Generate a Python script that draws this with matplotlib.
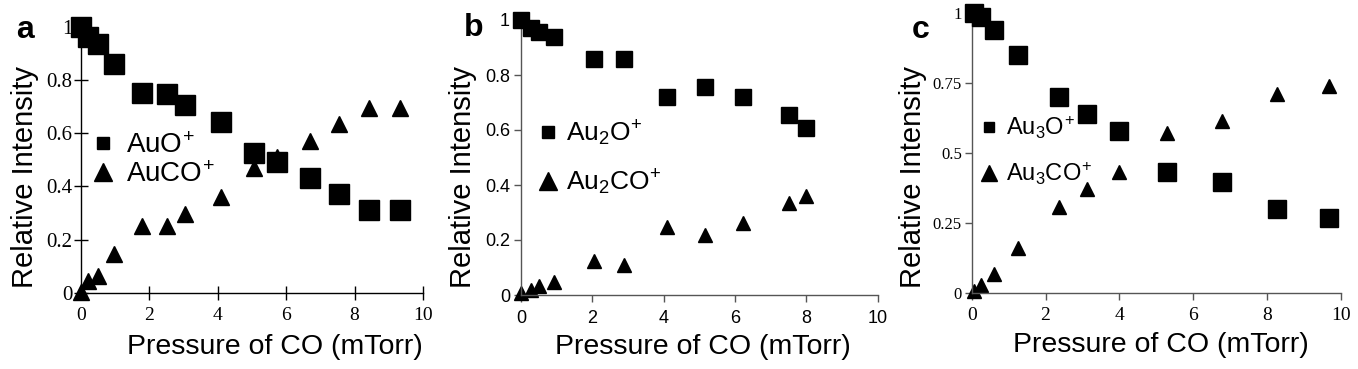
import matplotlib
matplotlib.use('Agg')
import matplotlib.pyplot as plt
from matplotlib.lines import Line2D

plt.rcParams['font.family'] = 'Liberation Sans'
plt.rcParams['mathtext.default'] = 'regular'

W, H = 1358, 369

# panel a: AuO+ / AuCO+
p_a = [0, 0.22, 0.52, 0.98, 1.78, 2.51, 3.04, 4.09, 5.06, 5.74, 6.71, 7.55, 8.41, 9.32]
auo = [1.0, 0.96, 0.935, 0.86, 0.75, 0.745, 0.705, 0.64, 0.525, 0.49, 0.43, 0.37, 0.31, 0.31]
auco = [0.005, 0.044, 0.065, 0.145, 0.25, 0.25, 0.295, 0.362, 0.47, 0.51, 0.569, 0.635, 0.694, 0.694]

# panel b: Au2O+ / Au2CO+
p_b = [0, 0.27, 0.5, 0.93, 2.05, 2.9, 4.08, 5.16, 6.21, 7.5, 8.0]
au2o = [1.0, 0.97, 0.955, 0.937, 0.86, 0.857, 0.719, 0.755, 0.719, 0.655, 0.606]
au2co = [0.006, 0.02, 0.033, 0.048, 0.125, 0.109, 0.248, 0.218, 0.263, 0.333, 0.36]

# panel c: Au3O+ / Au3CO+
p_c = [0.07, 0.24, 0.6, 1.25, 2.37, 3.12, 3.98, 5.29, 6.78, 8.27, 9.68]
au3o = [1.0, 0.986, 0.938, 0.85, 0.70, 0.638, 0.576, 0.432, 0.395, 0.30, 0.267]
au3co = [0.007, 0.028, 0.067, 0.159, 0.307, 0.371, 0.431, 0.572, 0.614, 0.708, 0.737]

x_ticks = [0, 2, 4, 6, 8, 10]
yt_ab = [0, 0.2, 0.4, 0.6, 0.8, 1]
yl_ab = ['0', '0.2', '0.4', '0.6', '0.8', '1']
yt_c = [0, 0.25, 0.5, 0.75, 1]
yl_c = ['0', '0.25', '0.5', '0.75', '1']


def box(l, r, t, b):
    return [l / W, 1 - b / H, (r - l) / W, (b - t) / H]


def fig_xy(px, py):
    return px / W, 1 - py / H


fig = plt.figure(figsize=(W / 100, H / 100), dpi=100)

panels = [
    dict(pos=box(80.7, 423, 26.5, 293), p=p_a, o=auo, co=auco, ms_s=14.4, ms_t=11,
         yt=yt_ab, yl=yl_ab, tfont='Liberation Serif', xs=14, ys=15, tdir='inout', tlen=10,
         xpad=5, ypad=1, spine='black',
         labels=['AuO$^{\\!+}$', 'AuCO$^{\\!+}$'], lfs=20, lms=(8, 13.5), lpos=(91.5, 160.5), lsp=0.12, ltp=0.45,
         letter='a', let_xy=(16, 38), xlab=(275, 347), ylab=(25, 177)),
    dict(pos=box(521, 877.7, 20, 295), p=p_b, o=au2o, co=au2co, ms_s=11.5, ms_t=9.5,
         yt=yt_ab, yl=yl_ab, tfont='Liberation Sans', xs=13, ys=13, tdir='out', tlen=5,
         xpad=6, ypad=3, spine='#555555',
         labels=['Au$_2$O$^{\\!+}$', 'Au$_2$CO$^{\\!+}$'], lfs=19, lms=(8.5, 13.5), lpos=(537, 158), lsp=0.75, ltp=0.3,
         letter='b', let_xy=(464, 36), xlab=(703, 347), ylab=(463, 177)),
    dict(pos=box(971.7, 1341, 12.7, 292.7), p=p_c, o=au3o, co=au3co, ms_s=12.7, ms_t=10,
         yt=yt_c, yl=yl_c, tfont='Liberation Serif', xs=14, ys=12, tdir='out', tlen=5,
         xpad=5, ypad=2, spine='#555555',
         labels=['Au$_3$O$^{\\!+}$', 'Au$_3$CO$^{\\!+}$'], lfs=17, lms=(7.5, 12), lpos=(980, 150.5), lsp=0.8, ltp=0.3,
         letter='c', let_xy=(912, 38), xlab=(1161, 345), ylab=(913, 177)),
]

for d in panels:
    ax = fig.add_axes(d['pos'])
    ax.plot(d['p'], d['o'], 's', color='black', ms=d['ms_s'], clip_on=False, zorder=3)
    ax.plot(d['p'], d['co'], '^', color='black', ms=d['ms_t'], clip_on=False, zorder=2)
    ax.set_xlim(0, 10)
    ax.set_ylim(0, 1)
    ax.set_xticks(x_ticks)
    ax.set_xticklabels([str(t) for t in x_ticks], fontfamily=d['tfont'], fontsize=d['xs'])
    ax.set_yticks(d['yt'])
    ax.set_yticklabels(d['yl'], fontfamily=d['tfont'], fontsize=d['ys'])
    ax.tick_params(axis='x', direction=d['tdir'], length=d['tlen'], width=1, pad=d['xpad'], color=d['spine'])
    ax.tick_params(axis='y', direction=d['tdir'], length=d['tlen'], width=1, pad=d['ypad'], color=d['spine'])
    for s in ['top', 'right']:
        ax.spines[s].set_visible(False)
    for s in ['left', 'bottom']:
        ax.spines[s].set_color(d['spine'])
        ax.spines[s].set_linewidth(1)

    handles = [Line2D([], [], ls='none', marker='s', color='black', ms=d['lms'][0]),
               Line2D([], [], ls='none', marker='^', color='black', ms=d['lms'][1])]
    ax.legend(handles, d['labels'], loc='center left', bbox_to_anchor=fig_xy(*d['lpos']),
              bbox_transform=fig.transFigure, frameon=False, fontsize=d['lfs'],
              handlelength=0.8, handletextpad=d['ltp'], labelspacing=d['lsp'],
              borderpad=0, borderaxespad=0)

    fig.text(*fig_xy(*d['let_xy']), d['letter'], fontsize=23, fontweight='bold', ha='left', va='baseline')
    fig.text(*fig_xy(*d['xlab']), 'Pressure of CO (mTorr)', fontsize=20.5, ha='center', va='center')
    fig.text(*fig_xy(*d['ylab']), 'Relative Intensity', fontsize=21, ha='center', va='center', rotation=90)

fig.savefig('out.png', dpi=100)
